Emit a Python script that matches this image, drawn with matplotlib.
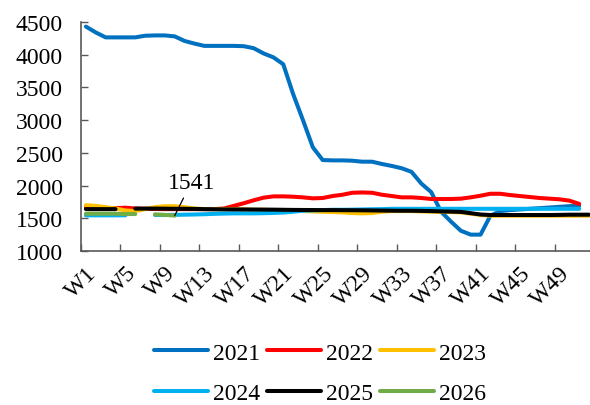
import numpy as np
import matplotlib
matplotlib.use("Agg")
import matplotlib.pyplot as plt

nan = np.nan
weeks = [f"W{i}" for i in range(1, 53)]

s2021 = [4430, 4340, 4265, 4265, 4265, 4265, 4290, 4295, 4295, 4280,
         4210, 4170, 4135, 4135, 4135, 4135, 4130, 4100, 4020, 3960,
         3855, 3400, 3000, 2585, 2390, 2385, 2385, 2380, 2365, 2365,
         2330, 2300, 2265, 2210, 2030, 1900, 1600, 1450, 1310, 1250,
         1250, 1540, 1610, 1625, 1635, 1645, 1655, 1665, 1675, 1685,
         1690, nan]
s2022 = [1665, 1662, 1658, 1655, 1662, 1650, 1645, 1642, 1640, 1640,
         1640, 1640, 1640, 1640, 1650, 1690, 1730, 1775, 1815, 1835,
         1835, 1830, 1820, 1805, 1810, 1840, 1860, 1890, 1895, 1890,
         1860, 1840, 1820, 1820, 1810, 1795, 1795, 1795, 1800, 1820,
         1845, 1875, 1875, 1855, 1840, 1825, 1810, 1800, 1790, 1770,
         1720, nan]
s2023 = [1700, 1690, 1670, 1650, 1620, 1610, 1640, 1670, 1685, 1685,
         1670, 1650, 1640, 1640, 1640, 1640, 1635, 1630, 1630, 1625,
         1620, 1615, 1610, 1605, 1600, 1595, 1590, 1580, 1575, 1580,
         1600, 1610, 1610, 1610, 1605, 1600, 1600, 1595, 1590, 1570,
         1550, 1540, 1540, 1540, 1540, 1540, 1540, 1540, 1540, 1540,
         1540, 1540]
s2024 = [1545, 1545, 1545, 1545, 1545, nan, nan, 1550, 1550, 1552,
         1555, 1558, 1562, 1568, 1572, 1575, 1575, 1575, 1578, 1582,
         1588, 1600, 1615, 1620, 1625, 1630, 1630, 1632, 1635, 1638,
         1640, 1645, 1645, 1645, 1645, 1645, 1645, 1645, 1645, 1645,
         1645, 1645, 1645, 1645, 1645, 1645, 1645, 1645, 1645, 1645,
         1645, nan]
s2025 = [1640, 1640, 1640, 1640, nan, 1648, 1648, 1648, 1647, 1645,
         1645, 1643, 1640, 1638, 1636, 1635, 1635, 1634, 1633, 1632,
         1630, 1628, 1627, 1626, 1625, 1625, 1624, 1623, 1622, 1620,
         1618, 1616, 1615, 1615, 1613, 1610, 1605, 1602, 1598, 1578,
         1558, 1550, 1550, 1550, 1550, 1550, 1550, 1550, 1552, 1555,
         1555, 1555]
s2026 = [1570, 1570, 1570, 1570, 1565, 1565, nan, 1560, 1552, 1541]

series = [("2021", s2021, "#0070C0"), ("2022", s2022, "#FF0000"),
          ("2023", s2023, "#FFC000"), ("2024", s2024, "#00B0F0"),
          ("2025", s2025, "#000000"), ("2026", s2026, "#70AD47")]

FS = 17
plt.rcParams['font.family'] = ['Liberation Serif', 'DejaVu Serif']
fig = plt.figure(figsize=(5.9, 4.06), dpi=100)
ax = fig.add_axes([81/590, 1-252/406, (594-81)/590, (252-23)/406])

for name, vals, col in series:
    x = np.arange(len(vals))
    ax.plot(x, vals, color=col, lw=2.9, label=name, solid_capstyle='round',
            solid_joinstyle='round')

# annotation on last 2026 value
last_i = len(s2026) - 1
ax.annotate(f"{s2026[last_i]:.0f}", xy=(last_i, s2026[last_i]),
            xytext=(12, 24), textcoords='offset points',
            fontsize=FS, ha='center', va='center',
            arrowprops=dict(arrowstyle='-', color='black', lw=0.9,
                            shrinkA=2, shrinkB=0))

ax.set_xlim(-0.5, 51.5)
ax.set_ylim(1000, 4500)
ax.set_yticks(np.arange(1000, 4501, 500))
ax.set_xticks(np.arange(0, 52, 4))
ax.set_xticklabels(weeks[::4], rotation=45, ha='right', va='top',
                   rotation_mode='anchor')
ax.set_xticks(np.arange(-0.5, 52, 4), minor=True)
ax.tick_params(axis='x', which='major', length=0, pad=8, labelsize=FS)
ax.tick_params(axis='x', which='minor', direction='in', length=5,
               width=1, color='#595959')
ax.tick_params(axis='y', direction='in', length=5, width=1, color='#595959',
               pad=13, labelsize=FS)
for s in ['top', 'right']:
    ax.spines[s].set_visible(False)
for s in ['left', 'bottom']:
    ax.spines[s].set_color('#595959')
    ax.spines[s].set_linewidth(1.2)

handles, labels = ax.get_legend_handles_labels()
order = [0, 3, 1, 4, 2, 5]
fig.legend([handles[i] for i in order], [labels[i] for i in order],
           loc='center', bbox_to_anchor=(320/590, 1-374/406),
           ncol=3, frameon=False, fontsize=FS, handlelength=2.3,
           handletextpad=0.2, columnspacing=0.3, labelspacing=0.8,
           borderpad=0.1)

fig.savefig("out.png", dpi=100)
